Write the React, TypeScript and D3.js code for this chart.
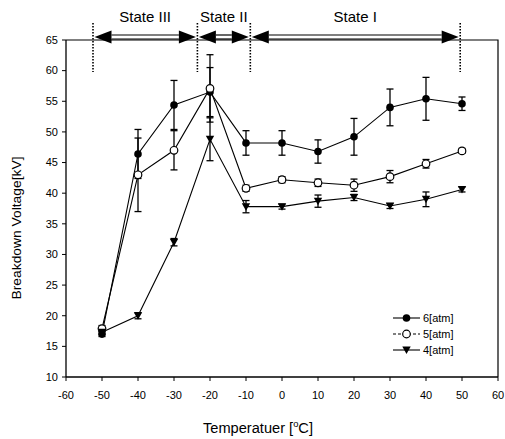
import * as d3 from 'd3';
import * as React from 'react';

// values
const temps = [-50, -40, -30, -20, -10, 0, 10, 20, 30, 40, 50];
const atm6 = [17.0, 46.4, 54.4, 56.5, 48.2, 48.2, 46.8, 49.2, 54.0, 55.4, 54.6];
const err6 = [0.4, 4.0, 4.0, 4.0, 2.0, 2.0, 1.9, 3.0, 3.0, 3.5, 1.1];
const atm5 = [17.9, 43.0, 47.0, 57.1, 40.8, 42.2, 41.7, 41.3, 42.7, 44.8, 46.9];
const err5 = [0.5, 6.0, 3.2, 5.5, 0.5, 0.5, 0.6, 1.0, 1.0, 0.7, 0.4];
const atm4 = [17.3, 20.0, 32.0, 48.8, 37.8, 37.8, 38.7, 39.3, 37.9, 39.0, 40.6];
const err4 = [0.3, 0.5, 0.6, 3.5, 1.0, 0.4, 1.0, 0.5, 0.4, 1.2, 0.4];

const seriesNames = ['6[atm]', '5[atm]', '4[atm]'];
const xTicks = [-60, -50, -40, -30, -20, -10, 0, 10, 20, 30, 40, 50, 60];
const yTicks = [10, 15, 20, 25, 30, 35, 40, 45, 50, 55, 60, 65];

// state regions (temperature boundaries drawn as dotted lines)
const stateBounds = [-52.5, -23.5, -8.8, 49.5];
const stateLabels = ['State III', 'State II', 'State I'];

const font = '"Liberation Sans", Arial, sans-serif';

function Marker({ kind, x, y }: { kind: number; x: number; y: number }) {
  if (kind === 0) return <circle cx={x} cy={y} r={3.8} fill="#000" />;
  if (kind === 1) return <circle cx={x} cy={y} r={3.8} fill="#fff" stroke="#000" strokeWidth={1.2} />;
  return <path d={`M${x - 4.2},${y - 3.5}L${x + 4.2},${y - 3.5}L${x},${y + 4}Z`} fill="#000" />;
}

export default function App() {
  const x = d3.scaleLinear().domain([-60, 60]).range([66, 498]);
  const y = d3.scaleLinear().domain([10, 65]).range([377, 40]);

  const series = [
    { v: atm6, e: err6 },
    { v: atm5, e: err5 },
    { v: atm4, e: err4 },
  ];

  const line = d3.line<number>().x((d, i) => x(temps[i])).y(d => y(d));

  const arrowY = 37;
  const head = 17;
  const hh = 6.5;

  return (
    <svg width={505} height={439} style={{ position: 'absolute', left: 0, top: 0, background: '#fff' }}
      fontFamily={font}>
      {/* frame */}
      <path d={`M${x(-60)},${y(65)}L${x(60)},${y(65)}L${x(60)},${y(10)}`} fill="none" stroke="#000" strokeWidth={1.2} />
      <line x1={x(-60)} x2={x(-60)} y1={y(65)} y2={y(10)} stroke="#000" strokeWidth={1.3} />
      <line x1={x(-60)} x2={x(60)} y1={y(10)} y2={y(10)} stroke="#000" strokeWidth={1.3} />

      {/* y ticks */}
      {yTicks.map(t => (
        <g key={'y' + t}>
          <line x1={x(-60) - 4} x2={x(-60)} y1={y(t)} y2={y(t)} stroke="#000" />
          <text x={58} y={y(t)} dy="0.35em" textAnchor="end" fontSize={11}>{t}</text>
        </g>
      ))}
      {/* x ticks */}
      {xTicks.map(t => (
        <g key={'x' + t}>
          <line x1={x(t)} x2={x(t)} y1={y(10)} y2={y(10) + 4} stroke="#000" />
          <text x={x(t)} y={399} textAnchor="middle" fontSize={11}>{t}</text>
        </g>
      ))}

      {/* axis titles */}
      <text transform={`translate(21,228) rotate(-90)`} textAnchor="middle" fontSize={13}
        textLength={143} lengthAdjust="spacingAndGlyphs">Breakdown Voltage[kV]</text>
      <text x={203} y={433} fontSize={14} textLength={110} lengthAdjust="spacingAndGlyphs">
        Temperatuer [<tspan fontSize={9} dy={-6}>o</tspan><tspan dy={6}>C]</tspan>
      </text>

      {/* state boundaries */}
      {stateBounds.map((b, i) => (
        <line key={'b' + i} x1={x(b)} x2={x(b)} y1={23} y2={72} stroke="#000" strokeWidth={1.6}
          strokeDasharray="1.5,1.5" />
      ))}
      {/* state arrows */}
      {stateLabels.map((lab, i) => {
        const a = x(stateBounds[i]) + 1.5;
        const b = x(stateBounds[i + 1]) - 1.5;
        return (
          <g key={lab}>
            <line x1={a + head} x2={b - head} y1={arrowY - 2} y2={arrowY - 2} stroke="#000" strokeWidth={1.2} />
            <line x1={a + head} x2={b - head} y1={arrowY + 2} y2={arrowY + 2} stroke="#000" strokeWidth={1.2} />
            <path d={`M${a},${arrowY}L${a + head},${arrowY - hh}L${a + head},${arrowY + hh}Z`} fill="#000" />
            <path d={`M${b},${arrowY}L${b - head},${arrowY - hh}L${b - head},${arrowY + hh}Z`} fill="#000" />
            <text x={(a + b) / 2} y={22} textAnchor="middle" fontSize={15}>{lab}</text>
          </g>
        );
      })}

      {/* error bars */}
      {series.map((s, k) => (
        <g key={'e' + k} stroke="#000" strokeWidth={1.3}>
          {s.v.map((v, i) => {
            const cx = x(temps[i]);
            const top = y(v + s.e[i]);
            const bot = y(v - s.e[i]);
            return (
              <g key={i}>
                <line x1={cx} x2={cx} y1={top} y2={bot} />
                <line x1={cx - 3.5} x2={cx + 3.5} y1={top} y2={top} />
                <line x1={cx - 3.5} x2={cx + 3.5} y1={bot} y2={bot} />
              </g>
            );
          })}
        </g>
      ))}

      {/* lines */}
      {series.map((s, k) => (
        <path key={'l' + k} d={line(s.v) || ''} fill="none" stroke="#000" strokeWidth={1.1} />
      ))}
      {/* markers */}
      {series.map((s, k) => (
        <g key={'m' + k}>
          {s.v.map((v, i) => <Marker key={i} kind={k} x={x(temps[i])} y={y(v)} />)}
        </g>
      ))}

      {/* legend */}
      {seriesNames.map((n, k) => {
        const ly = 318 + k * 16;
        return (
          <g key={n}>
            <line x1={393} x2={420} y1={ly} y2={ly} stroke="#000" strokeWidth={1.1}
              strokeDasharray={k === 1 ? '3,2' : undefined} />
            <Marker kind={k} x={406.5} y={ly} />
            <text x={423} y={ly} dy="0.35em" fontSize={11}>{n}</text>
          </g>
        );
      })}
    </svg>
  );
}
